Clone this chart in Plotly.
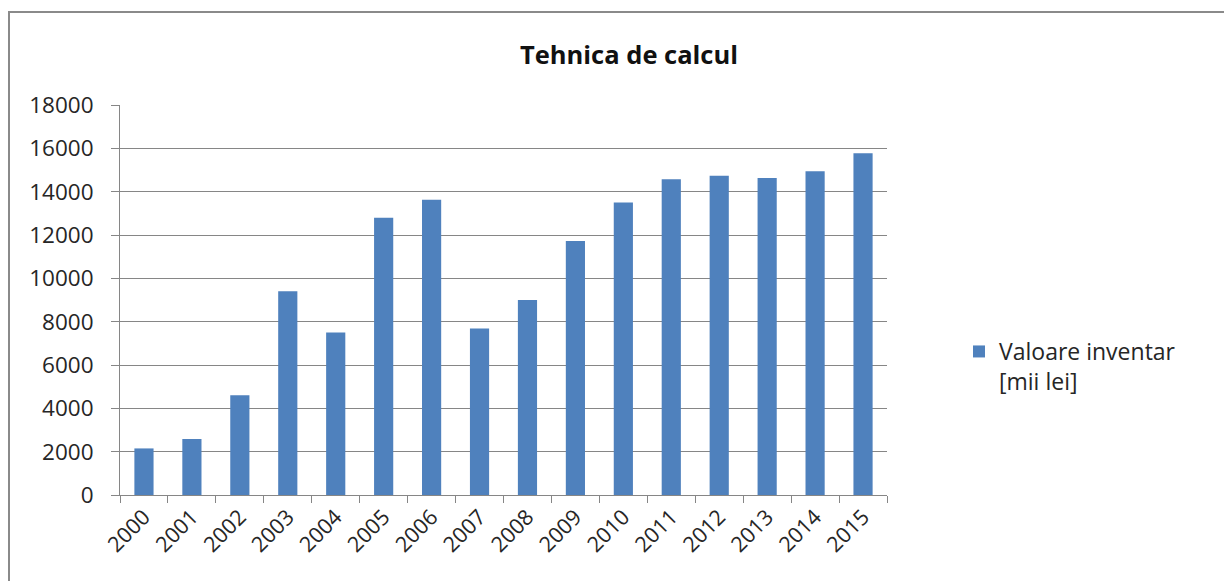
import plotly.graph_objects as go

years = ["2000", "2001", "2002", "2003", "2004", "2005", "2006", "2007",
         "2008", "2009", "2010", "2011", "2012", "2013", "2014", "2015"]
values = [2150, 2580, 4600, 9400, 7500, 12800, 13630, 7680,
          9000, 11720, 13500, 14570, 14740, 14630, 14940, 15770]
series_name = "Valoare inventar<br>[mii lei]"
title_text = "Tehnica de calcul"
y_ticks = [0, 2000, 4000, 6000, 8000, 10000, 12000, 14000, 16000, 18000]
y_labels = [str(v) for v in y_ticks]

# page body has an 8px margin; work in absolute window pixels
OFF = 8
WIN_W, WIN_H = 1232, 581
W, H = WIN_W - OFF, WIN_H - OFF
PX0, PX1, PY0, PY1 = 120, 887, 105, 495  # plot area in window pixels
L, T = PX0 - OFF, PY0 - OFF
R = W - (PX1 - OFF)
B = H - (PY1 - OFF)
pw, ph = PX1 - PX0, PY1 - PY0

def px_x(x):
    return (x - PX0) / pw

def px_y(y):
    return (PY1 - y) / ph

fig = go.Figure()
fig.add_trace(go.Bar(
    x=years, y=values, name=series_name,
    marker=dict(color="#4F81BD", line=dict(width=0)),
    showlegend=True,
))

font_family = "Open Sans, Noto Sans, Liberation Sans, sans-serif"

fig.update_layout(
    width=W, height=H,
    margin=dict(l=L, r=R, t=T, b=B, autoexpand=False),
    paper_bgcolor="white", plot_bgcolor="white",
    bargap=0.6,
    font=dict(family=font_family, size=22, color="#262626"),
    title=dict(text="<b>" + title_text + "</b>", x=(629 - OFF) / W, xanchor="center",
               y=1 - (55 - OFF) / H, yanchor="middle", xref="container", yref="container",
               font=dict(size=25.5, color="#111111")),
    xaxis=dict(
        type="category", tickangle=-45, showline=True, linecolor="#868686",
        linewidth=1, ticks="outside", ticklen=7, tickcolor="#868686",
        tickson="boundaries", showgrid=False, tickfont=dict(size=21.5),
    ),
    yaxis=dict(
        range=[0, 18000], tickvals=y_ticks, ticktext=y_labels, showline=True,
        linecolor="#868686", linewidth=1, ticks="outside", ticklen=8,
        tickcolor="#868686", showgrid=True, gridcolor="#868686", gridwidth=1,
        zeroline=False, tickfont=dict(size=22.5), ticklabelstandoff=13,
    ),
    legend=dict(x=px_x(959), y=px_y(330), xanchor="left", yanchor="top",
                font=dict(size=23), bgcolor="rgba(0,0,0,0)", valign="top",
                itemwidth=30),
    shapes=[dict(type="rect", xref="paper", yref="paper",
                 x0=px_x(9), x1=px_x(1300), y0=px_y(650), y1=px_y(12),
                 line=dict(color="#8a8a8a", width=2), layer="below")],
)

fig.write_html("out.html")
